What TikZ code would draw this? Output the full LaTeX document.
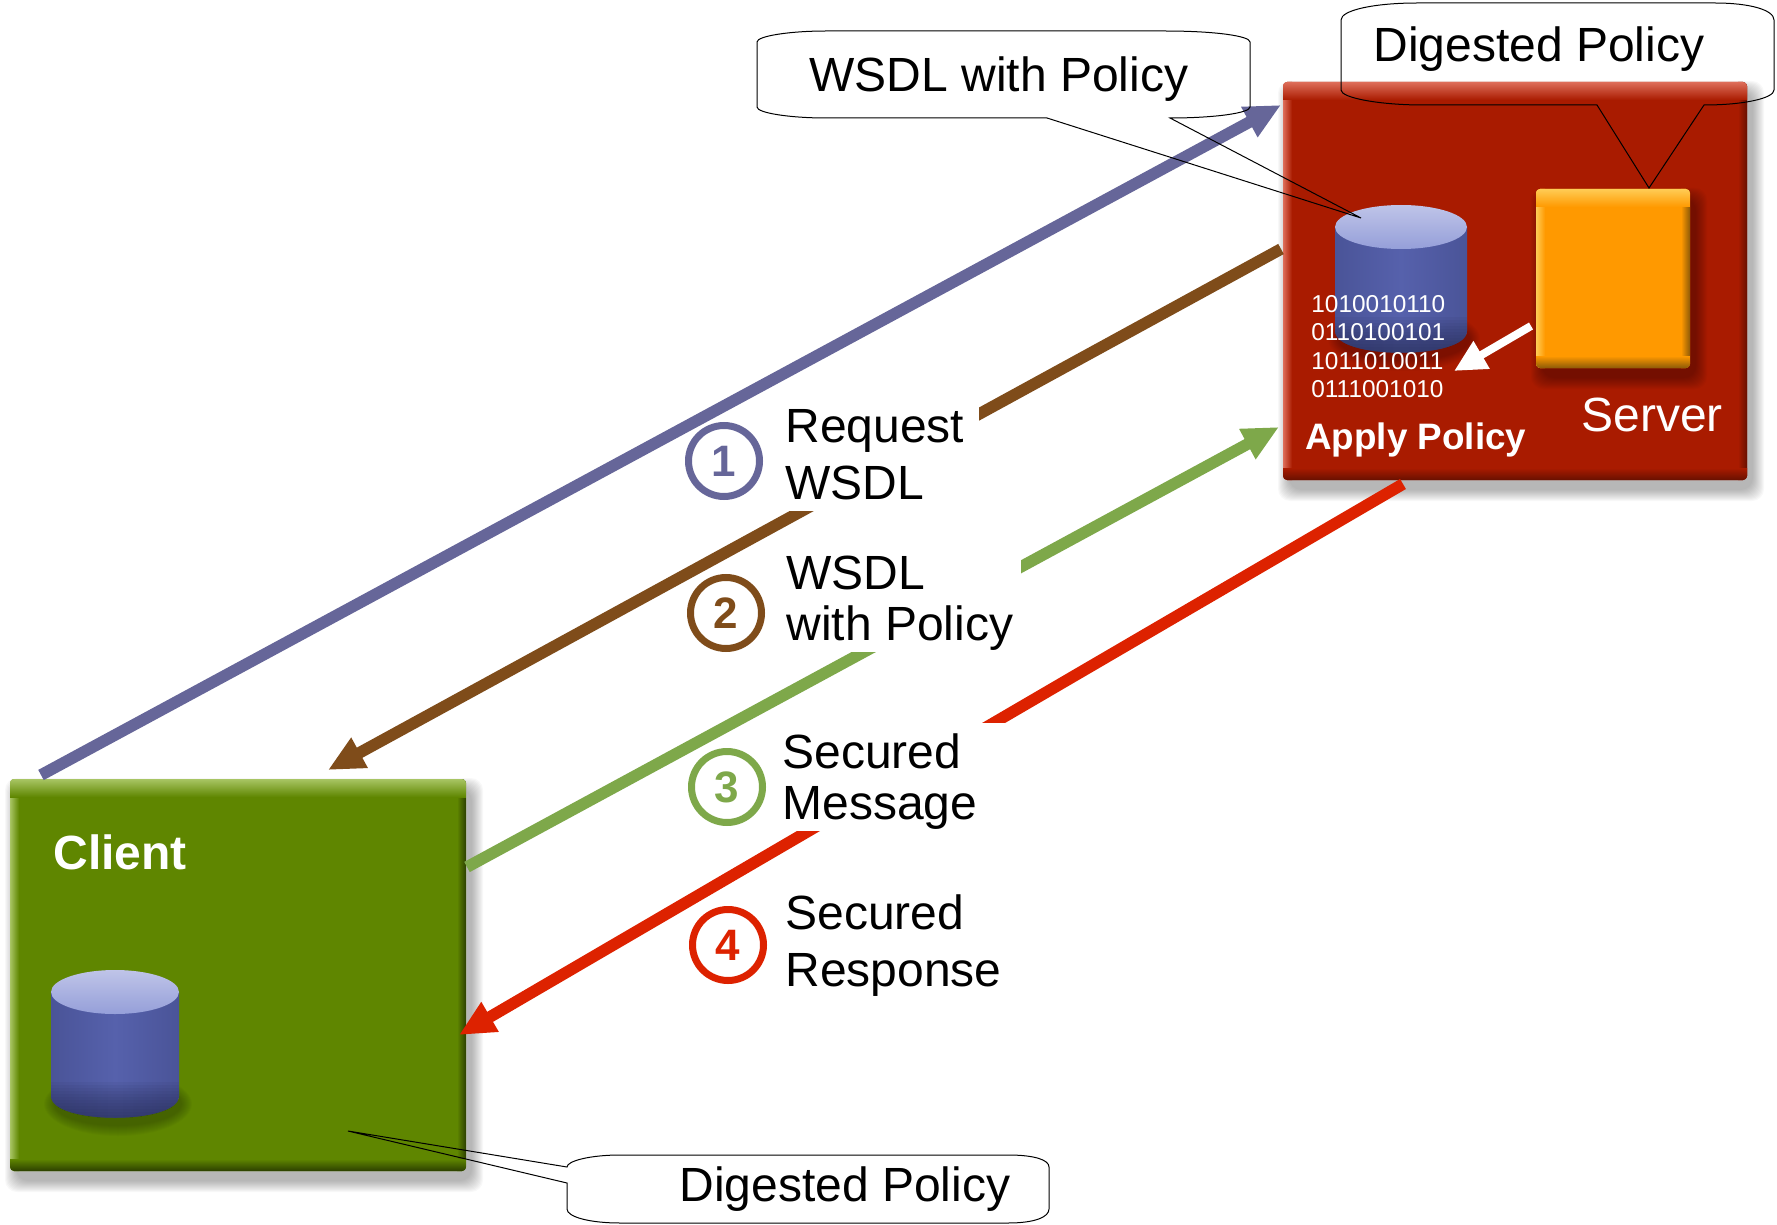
\documentclass[tikz,border=0pt]{standalone}
\usepackage{fontspec}
\setmainfont{Liberation Sans}
\usetikzlibrary{arrows.meta,fit}
\definecolor{reqcol}{HTML}{666699}
\definecolor{wsdlcol}{HTML}{7F4C1A}
\definecolor{msgcol}{HTML}{7EA84A}
\definecolor{respcol}{HTML}{DD2200}
\definecolor{serverred}{HTML}{A91B00}
\definecolor{serverlite}{HTML}{DE6E5A}
\definecolor{serverdark}{HTML}{681000}
\definecolor{orangebody}{HTML}{FF9900}
\definecolor{orangelite}{HTML}{FFCC55}
\definecolor{orangedark}{HTML}{8C5A08}
\definecolor{clientgreen}{HTML}{5F8600}
\definecolor{clientlite}{HTML}{A8C564}
\definecolor{clientdark}{HTML}{2C3F00}
\definecolor{drumbody}{HTML}{5661AC}
\definecolor{drumedge}{HTML}{4A5498}
\definecolor{drumdark}{HTML}{23284F}
\definecolor{drumtop}{HTML}{959FD9}
\definecolor{drumlite}{HTML}{BFC4E8}
\tikzset{
  panelbox/.style={rectangle,inner sep=0pt,outer sep=0pt,rounded corners=2pt},
  flow/.style={line width=5.8pt,-{Triangle[length=18pt,width=16pt]}},
  callout/.style={draw=black,line width=.5pt},
  stepcircle/.style={circle,line width=3.5pt,minimum size=35.5pt,inner sep=0pt,font=\fontsize{22}{22}\selectfont\bfseries},
  stepnote/.style={align=left,inner sep=0pt,anchor=north west,font=\fontsize{24}{28.5}\selectfont},
  stepnotetight/.style={align=left,inner sep=0pt,anchor=north west,font=\fontsize{24}{25.5}\selectfont},
  boxtitle/.style={text=white,inner sep=0pt,anchor=north west,font=\fontsize{24}{24}\selectfont}
}
% name, corners, body, light edge, dark edge
\newcommand{\panel}[8]{
  \foreach \s in {0,...,11}
    \fill[black,opacity=.028,rounded corners=6pt] ({#2-\s+6},{#3-\s+10}) rectangle ({#4+\s+6},{#5+\s+10});
  \node[panelbox,fill=#6,fit={(#2,#3) (#4,#5)}] (#1) {};
  \begin{scope}
    \clip[rounded corners=2pt] (#2,#3) rectangle (#4,#5);
    \shade[left color=#7,right color=#6] (#2,#3) rectangle ({#2+9},#5);
    \shade[left color=#6,right color=#8] ({#4-9},#3) rectangle (#4,#5);
    \shade[top color=#7,bottom color=#6] (#2,#3) rectangle (#4,{#3+18});
    \shade[top color=#6,bottom color=#8] (#2,{#5-12}) rectangle (#4,#5);
  \end{scope}
}
% centre x, top y, bottom y, radius x
\newcommand{\drum}[4]{
  \foreach \s in {0,...,10}
    \fill[black,opacity=.022] ({#1+3},{#3+8}) ellipse ({(#4+\s)*.5pt} and {(22+\s)*.5pt});
  \shade[left color=drumedge,right color=drumedge,middle color=drumbody]
    ({#1-#4},#2) -- ({#1-#4},#3) .. controls ({#1-#4},{#3+29}) and ({#1+#4},{#3+29}) .. ({#1+#4},#3) -- ({#1+#4},#2) -- cycle;
  \begin{scope}
    \clip ({#1-#4},{#3-14}) -- ({#1-#4},#3) .. controls ({#1-#4},{#3+29}) and ({#1+#4},{#3+29}) .. ({#1+#4},#3) -- ({#1+#4},{#3-14}) -- cycle;
    \foreach \s in {0,...,12}
      \fill[drumdark,opacity=.07] ({#1-#4},{#3-14+3*\s}) rectangle ({#1+#4},{#3+23});
  \end{scope}
  \shade[top color=drumlite,bottom color=drumtop] (#1,#2) ellipse ({#4*.5pt} and {22*.5pt});
}
\begin{document}
\begin{tikzpicture}[x=.5pt,y=-.5pt]
 \useasboundingbox (0,0) rectangle (1777,1225);

 \panel{server}{1283}{82}{1747}{480}{serverred}{serverlite}{serverdark}
 \panel{client}{10}{779}{466}{1171}{clientgreen}{clientlite}{clientdark}
 \panel{engine}{1536}{189}{1690}{368}{orangebody}{orangelite}{orangedark}
 \drum{1401}{227}{331}{66}
 \drum{115}{992}{1096}{64}

 \node[boxtitle] (servername) at (1581,398) {Server};
 \node[boxtitle] (clientname) at (53,834) {\bfseries Client};
 \node[boxtitle,font=\fontsize{18.4}{18.4}\selectfont\bfseries] (applyname) at (1305,422) {Apply Policy};
 \node[text=white,align=left,inner sep=0pt,anchor=north west,font=\fontsize{12.2}{14.2}\selectfont] (bits) at (1311,295)
   {1010010110\\0110100101\\1011010011\\0111001010};

 \coordinate (reqfrom) at (41,775);
 \coordinate (reqto) at (1281,105);
 \coordinate (wsdlfrom) at (1281,249);
 \coordinate (wsdlto) at (328,770);
 \coordinate (msgfrom) at (467,867);
 \coordinate (msgto) at (1279,427);
 \coordinate (respfrom) at (1403,484);
 \coordinate (respto) at (459,1035);
 \coordinate (digestfrom) at (1531,326);
 \coordinate (digestto) at (1454,371);

 \foreach \from/\to/\col in
{reqfrom/reqto/reqcol,wsdlfrom/wsdlto/wsdlcol,msgfrom/msgto/msgcol,respfrom/respto/respcol}
\draw [flow,draw=\col,fill=\col] (\from) -- (\to);
 \draw [line width=4pt,white,-{Triangle[length=16pt,width=15pt]}] (digestfrom) -- (digestto);

 % white boxes behind the notes break the lines
 \fill[white] (780,398) rectangle (979,511);
 \fill[white] (786,530) rectangle (1021,652);
 \fill[white] (780,723) rectangle (1025,831);

 \foreach \id/\x/\y/\col in {1/724/461/reqcol,2/726/613/wsdlcol,3/727/787/msgcol,4/728/945/respcol}
 \node[stepcircle,draw=\col,text=\col] (step\id) at (\x,\y) {\id};

 \node[stepnote] (note1) at (785,409) {Request\\WSDL};
 \node[stepnotetight] (note2) at (786,556) {WSDL\\with Policy};
 \node[stepnotetight] (note3) at (782,733) {Secured\\Message};
 \node[stepnote] (note4) at (785,894) {Secured\\Response};

 \coordinate (wsdltip) at (1361,218);
 \coordinate (servertip) at (1649,188);
 \coordinate (clienttip) at (348,1131);

 \draw[callout] (757,42) .. controls (757,36) and (790,31) .. (826,31) -- (1165,31)
   .. controls (1215,31) and (1250,36) .. (1250,42) -- (1250,107)
   .. controls (1250,113) and (1215,118) .. (1170,118) -- (wsdltip) -- (1047,118) -- (826,118)
   .. controls (790,118) and (757,113) .. (757,107) -- cycle;
 \draw[callout] (1341,20) .. controls (1341,10) and (1375,3) .. (1417,3) -- (1715,3)
   .. controls (1750,3) and (1774,10) .. (1774,20) -- (1774,90)
   .. controls (1774,98) and (1745,105) .. (1704,105) -- (servertip) -- (1597,105) -- (1423,105)
   .. controls (1380,105) and (1341,98) .. (1341,90) -- cycle;
 \draw[callout] (567,1167) .. controls (567,1161) and (590,1155) .. (620,1155) -- (1008,1155)
   .. controls (1035,1155) and (1049,1160) .. (1049,1167) -- (1049,1209)
   .. controls (1049,1217) and (1035,1223) .. (1008,1223) -- (620,1223)
   .. controls (590,1223) and (567,1217) .. (567,1209) -- (567,1183) -- (clienttip) -- cycle;

 \node[inner sep=0pt,anchor=north west,font=\fontsize{24}{24}\selectfont] (wsdlnote) at (809,56) {WSDL with Policy};
 \node[inner sep=0pt,anchor=north west,font=\fontsize{24}{24}\selectfont] (servernote) at (1373,26) {Digested Policy};
 \node[inner sep=0pt,anchor=north west,font=\fontsize{24}{24}\selectfont] (clientnote) at (679,1166) {Digested Policy};
\end{tikzpicture}
\end{document}
